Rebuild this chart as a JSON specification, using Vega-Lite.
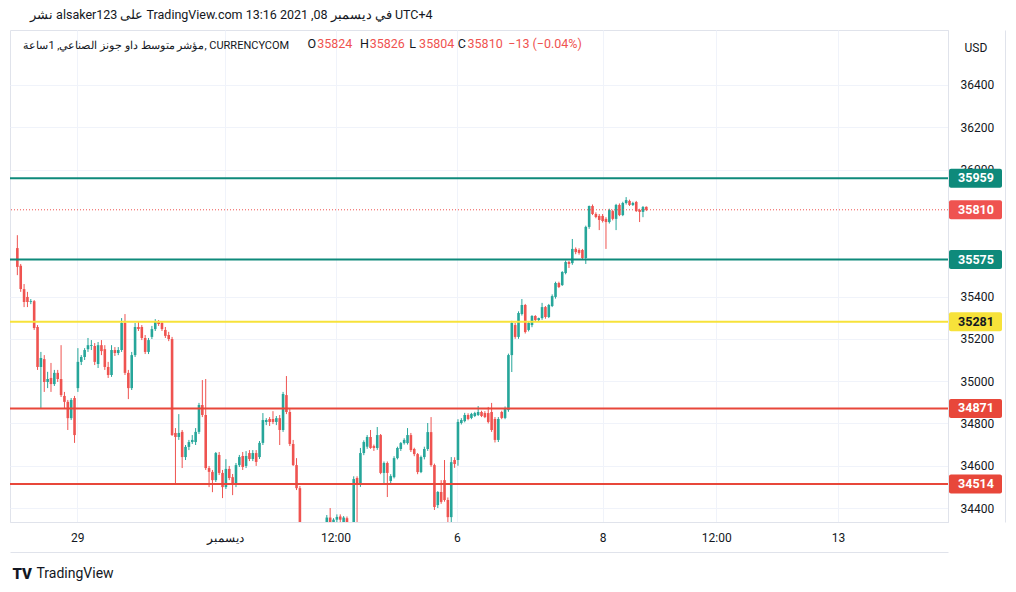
{
"$schema": "https://vega.github.io/schema/vega-lite/v6.json",
"width": 938, "height": 492,
"autosize": {"type": "none"},
"padding": {"left": 10, "top": 30, "right": 68, "bottom": 70},
"background": "#ffffff",
"config": {"view": {"stroke": "#e0e3eb"}, "font": "Roboto"},
"title": {"text": "نشر alsaker123 على TradingView.com 13:16 2021 ,08 في ديسمبر UTC+4", "anchor": "start", "frame": "group", "dx": 20, "offset": 9, "fontSize": 12.5, "fontWeight": "normal", "color": "#131722"},
"datasets": {
"candles": [
{"i":0,"o":35629,"h":35690,"l":35501,"c":35540},
{"i":1,"o":35545,"h":35554,"l":35422,"c":35435},
{"i":2,"o":35435,"h":35459,"l":35350,"c":35374},
{"i":3,"o":35398,"h":35422,"l":35350,"c":35374},
{"i":4,"o":35374,"h":35388,"l":35364,"c":35378},
{"i":5,"o":35378,"h":35383,"l":35242,"c":35251},
{"i":6,"o":35256,"h":35265,"l":35053,"c":35067},
{"i":7,"o":35067,"h":35138,"l":34873,"c":35109},
{"i":8,"o":35104,"h":35123,"l":34949,"c":34996},
{"i":9,"o":34996,"h":35044,"l":34967,"c":35010},
{"i":10,"o":35015,"h":35086,"l":34949,"c":34986},
{"i":11,"o":34986,"h":35053,"l":34977,"c":35039},
{"i":12,"o":35039,"h":35053,"l":34996,"c":35010},
{"i":13,"o":35010,"h":35170,"l":34925,"c":34934},
{"i":14,"o":34930,"h":34949,"l":34873,"c":34902},
{"i":15,"o":34902,"h":34911,"l":34769,"c":34825},
{"i":16,"o":34825,"h":34920,"l":34816,"c":34911},
{"i":17,"o":34920,"h":34930,"l":34708,"c":34745},
{"i":18,"o":34967,"h":35156,"l":34949,"c":35091},
{"i":19,"o":35091,"h":35123,"l":35076,"c":35114},
{"i":20,"o":35114,"h":35156,"l":35100,"c":35147},
{"i":21,"o":35151,"h":35204,"l":35138,"c":35170},
{"i":22,"o":35166,"h":35194,"l":35147,"c":35170},
{"i":23,"o":35166,"h":35180,"l":35076,"c":35091},
{"i":24,"o":35081,"h":35185,"l":35062,"c":35170},
{"i":25,"o":35170,"h":35194,"l":35123,"c":35142},
{"i":26,"o":35151,"h":35170,"l":35053,"c":35067},
{"i":27,"o":35067,"h":35091,"l":35015,"c":35029},
{"i":28,"o":35029,"h":35170,"l":35020,"c":35147},
{"i":29,"o":35147,"h":35161,"l":35119,"c":35133},
{"i":30,"o":35133,"h":35161,"l":35123,"c":35147},
{"i":31,"o":35147,"h":35298,"l":35138,"c":35275},
{"i":32,"o":35275,"h":35317,"l":35029,"c":35039},
{"i":33,"o":35039,"h":35053,"l":34915,"c":34967},
{"i":34,"o":34967,"h":35138,"l":34958,"c":35123},
{"i":35,"o":35123,"h":35275,"l":35114,"c":35256},
{"i":36,"o":35256,"h":35280,"l":35237,"c":35246},
{"i":37,"o":35256,"h":35265,"l":35194,"c":35204},
{"i":38,"o":35204,"h":35218,"l":35128,"c":35138},
{"i":39,"o":35138,"h":35204,"l":35128,"c":35194},
{"i":40,"o":35209,"h":35261,"l":35199,"c":35246},
{"i":41,"o":35246,"h":35293,"l":35237,"c":35280},
{"i":42,"o":35280,"h":35289,"l":35261,"c":35270},
{"i":43,"o":35275,"h":35284,"l":35237,"c":35246},
{"i":44,"o":35242,"h":35256,"l":35204,"c":35214},
{"i":45,"o":35218,"h":35233,"l":35189,"c":35199},
{"i":46,"o":35199,"h":35209,"l":34741,"c":34745},
{"i":47,"o":34755,"h":34778,"l":34513,"c":34736},
{"i":48,"o":34736,"h":34844,"l":34722,"c":34755},
{"i":49,"o":34760,"h":34769,"l":34589,"c":34641},
{"i":50,"o":34641,"h":34698,"l":34627,"c":34689},
{"i":51,"o":34689,"h":34722,"l":34674,"c":34712},
{"i":52,"o":34712,"h":34745,"l":34703,"c":34722},
{"i":53,"o":34712,"h":34778,"l":34698,"c":34760},
{"i":54,"o":34760,"h":34897,"l":34750,"c":34887},
{"i":55,"o":34887,"h":35005,"l":34830,"c":34840},
{"i":56,"o":34840,"h":35010,"l":34580,"c":34589},
{"i":57,"o":34589,"h":34599,"l":34499,"c":34571},
{"i":58,"o":34571,"h":34580,"l":34475,"c":34532},
{"i":59,"o":34532,"h":34665,"l":34523,"c":34660},
{"i":60,"o":34651,"h":34665,"l":34556,"c":34566},
{"i":61,"o":34566,"h":34580,"l":34447,"c":34499},
{"i":62,"o":34499,"h":34631,"l":34490,"c":34585},
{"i":63,"o":34585,"h":34599,"l":34532,"c":34542},
{"i":64,"o":34546,"h":34561,"l":34461,"c":34509},
{"i":65,"o":34509,"h":34613,"l":34499,"c":34603},
{"i":66,"o":34603,"h":34651,"l":34594,"c":34641},
{"i":67,"o":34646,"h":34665,"l":34580,"c":34594},
{"i":68,"o":34599,"h":34669,"l":34589,"c":34646},
{"i":69,"o":34660,"h":34674,"l":34622,"c":34632},
{"i":70,"o":34632,"h":34674,"l":34622,"c":34660},
{"i":71,"o":34660,"h":34674,"l":34599,"c":34618},
{"i":72,"o":34641,"h":34717,"l":34632,"c":34708},
{"i":73,"o":34708,"h":34849,"l":34698,"c":34816},
{"i":74,"o":34807,"h":34825,"l":34792,"c":34816},
{"i":75,"o":34821,"h":34830,"l":34788,"c":34807},
{"i":76,"o":34821,"h":34858,"l":34797,"c":34807},
{"i":77,"o":34807,"h":34835,"l":34792,"c":34825},
{"i":78,"o":34825,"h":34840,"l":34698,"c":34769},
{"i":79,"o":34769,"h":34949,"l":34760,"c":34939},
{"i":80,"o":34934,"h":35024,"l":34844,"c":34854},
{"i":81,"o":34854,"h":34868,"l":34693,"c":34703},
{"i":82,"o":34703,"h":34722,"l":34599,"c":34603},
{"i":83,"o":34603,"h":34636,"l":34485,"c":34494},
{"i":84,"o":34494,"h":34504,"l":34250,"c":34290},
{"i":85,"o":34290,"h":34315,"l":34180,"c":34210},
{"i":86,"o":34210,"h":34260,"l":34150,"c":34240},
{"i":87,"o":34240,"h":34290,"l":34200,"c":34220},
{"i":88,"o":34220,"h":34300,"l":34190,"c":34280},
{"i":89,"o":34280,"h":34310,"l":34220,"c":34250},
{"i":90,"o":34250,"h":34320,"l":34230,"c":34300},
{"i":91,"o":34300,"h":34325,"l":34260,"c":34280},
{"i":92,"o":34280,"h":34367,"l":34270,"c":34355},
{"i":93,"o":34355,"h":34400,"l":34290,"c":34300},
{"i":94,"o":34300,"h":34352,"l":34285,"c":34345},
{"i":95,"o":34345,"h":34370,"l":34320,"c":34358},
{"i":96,"o":34360,"h":34370,"l":34300,"c":34345},
{"i":97,"o":34330,"h":34362,"l":34300,"c":34355},
{"i":98,"o":34352,"h":34360,"l":34280,"c":34300},
{"i":99,"o":34300,"h":34320,"l":34250,"c":34280},
{"i":100,"o":34280,"h":34550,"l":34270,"c":34537},
{"i":101,"o":34542,"h":34550,"l":34330,"c":34518},
{"i":102,"o":34518,"h":34684,"l":34500,"c":34660},
{"i":103,"o":34660,"h":34720,"l":34650,"c":34712},
{"i":104,"o":34690,"h":34745,"l":34680,"c":34736},
{"i":105,"o":34736,"h":34769,"l":34680,"c":34684},
{"i":106,"o":34693,"h":34700,"l":34670,"c":34684},
{"i":107,"o":34684,"h":34783,"l":34675,"c":34745},
{"i":108,"o":34745,"h":34750,"l":34560,"c":34566},
{"i":109,"o":34566,"h":34620,"l":34518,"c":34613},
{"i":110,"o":34613,"h":34620,"l":34452,"c":34566},
{"i":111,"o":34528,"h":34560,"l":34515,"c":34551},
{"i":112,"o":34546,"h":34645,"l":34540,"c":34636},
{"i":113,"o":34636,"h":34690,"l":34630,"c":34684},
{"i":114,"o":34679,"h":34712,"l":34670,"c":34707},
{"i":115,"o":34707,"h":34730,"l":34700,"c":34722},
{"i":116,"o":34707,"h":34778,"l":34700,"c":34745},
{"i":117,"o":34745,"h":34755,"l":34665,"c":34674},
{"i":118,"o":34679,"h":34685,"l":34645,"c":34655},
{"i":119,"o":34655,"h":34660,"l":34560,"c":34570},
{"i":120,"o":34570,"h":34648,"l":34565,"c":34641},
{"i":121,"o":34641,"h":34690,"l":34630,"c":34679},
{"i":122,"o":34679,"h":34802,"l":34670,"c":34759},
{"i":123,"o":34759,"h":34830,"l":34595,"c":34603},
{"i":124,"o":34603,"h":34610,"l":34391,"c":34405},
{"i":125,"o":34414,"h":34480,"l":34400,"c":34476},
{"i":126,"o":34476,"h":34532,"l":34420,"c":34429},
{"i":127,"o":34532,"h":34627,"l":34430,"c":34438},
{"i":128,"o":34438,"h":34450,"l":34334,"c":34357},
{"i":129,"o":34357,"h":34641,"l":34334,"c":34617},
{"i":130,"o":34627,"h":34640,"l":34590,"c":34608},
{"i":131,"o":34627,"h":34820,"l":34600,"c":34807},
{"i":132,"o":34802,"h":34825,"l":34795,"c":34816},
{"i":133,"o":34811,"h":34850,"l":34805,"c":34840},
{"i":134,"o":34840,"h":34848,"l":34815,"c":34821},
{"i":135,"o":34826,"h":34850,"l":34820,"c":34845},
{"i":136,"o":34835,"h":34855,"l":34830,"c":34849},
{"i":137,"o":34840,"h":34882,"l":34835,"c":34854},
{"i":138,"o":34854,"h":34860,"l":34830,"c":34835},
{"i":139,"o":34849,"h":34858,"l":34825,"c":34830},
{"i":140,"o":34849,"h":34878,"l":34800,"c":34807},
{"i":141,"o":34854,"h":34897,"l":34760,"c":34769},
{"i":142,"o":34821,"h":34830,"l":34710,"c":34722},
{"i":143,"o":34722,"h":34830,"l":34712,"c":34821},
{"i":144,"o":34854,"h":34860,"l":34820,"c":34826},
{"i":145,"o":34826,"h":34880,"l":34820,"c":34873},
{"i":146,"o":34863,"h":35130,"l":34855,"c":35123},
{"i":147,"o":35123,"h":35285,"l":35043,"c":35275},
{"i":148,"o":35265,"h":35275,"l":35200,"c":35209},
{"i":149,"o":35209,"h":35330,"l":35200,"c":35322},
{"i":150,"o":35317,"h":35388,"l":35310,"c":35360},
{"i":151,"o":35360,"h":35365,"l":35225,"c":35232},
{"i":152,"o":35242,"h":35280,"l":35235,"c":35275},
{"i":153,"o":35265,"h":35312,"l":35255,"c":35308},
{"i":154,"o":35308,"h":35312,"l":35280,"c":35289},
{"i":155,"o":35289,"h":35300,"l":35280,"c":35298},
{"i":156,"o":35298,"h":35370,"l":35290,"c":35350},
{"i":157,"o":35350,"h":35355,"l":35295,"c":35303},
{"i":158,"o":35303,"h":35365,"l":35298,"c":35360},
{"i":159,"o":35355,"h":35410,"l":35350,"c":35402},
{"i":160,"o":35398,"h":35470,"l":35390,"c":35464},
{"i":161,"o":35464,"h":35470,"l":35440,"c":35445},
{"i":162,"o":35454,"h":35520,"l":35450,"c":35516},
{"i":163,"o":35511,"h":35570,"l":35505,"c":35563},
{"i":164,"o":35563,"h":35568,"l":35535,"c":35554},
{"i":165,"o":35558,"h":35672,"l":35550,"c":35625},
{"i":166,"o":35625,"h":35632,"l":35600,"c":35610},
{"i":167,"o":35620,"h":35628,"l":35598,"c":35606},
{"i":168,"o":35620,"h":35625,"l":35575,"c":35582},
{"i":169,"o":35582,"h":35735,"l":35554,"c":35729},
{"i":170,"o":35729,"h":35830,"l":35720,"c":35828},
{"i":171,"o":35828,"h":35835,"l":35785,"c":35790},
{"i":172,"o":35790,"h":35798,"l":35770,"c":35776},
{"i":173,"o":35781,"h":35790,"l":35714,"c":35762},
{"i":174,"o":35781,"h":35790,"l":35750,"c":35757},
{"i":175,"o":35767,"h":35775,"l":35625,"c":35752},
{"i":176,"o":35752,"h":35815,"l":35745,"c":35809},
{"i":177,"o":35804,"h":35810,"l":35760,"c":35767},
{"i":178,"o":35767,"h":35838,"l":35714,"c":35833},
{"i":179,"o":35833,"h":35840,"l":35780,"c":35785},
{"i":180,"o":35785,"h":35848,"l":35780,"c":35842},
{"i":181,"o":35842,"h":35870,"l":35835,"c":35856},
{"i":182,"o":35852,"h":35858,"l":35828,"c":35833},
{"i":183,"o":35833,"h":35848,"l":35828,"c":35842},
{"i":184,"o":35847,"h":35852,"l":35800,"c":35804},
{"i":185,"o":35809,"h":35815,"l":35752,"c":35800},
{"i":186,"o":35800,"h":35828,"l":35775,"c":35823},
{"i":187,"o":35824,"h":35826,"l":35804,"c":35810}
],
"levels": [
{"name":"R2","price":35959},
{"name":"R1","price":35575},
{"name":"P","price":35281},
{"name":"S1","price":34871},
{"name":"S2","price":34514},
{"name":"Last","price":35810}
]
},
"resolve": {"axis": {"x": "independent", "y": "independent"}},
"layer": [
{
"data": {"name": "candles"},
"mark": {"type": "rule", "strokeWidth": 1, "clip": true},
"encoding": {
"x": {"field": "i", "type": "quantitative", "scale": {"domain": [-0.7, 275.2], "nice": false, "zero": false},
 "axis": {"orient": "bottom", "values": [17.8, 61.6, 94.6, 130.7, 174, 207.8, 244],
  "labelExpr": "datum.value < 30 ? '29' : datum.value < 70 ? 'ديسمبر' : datum.value < 110 ? '12:00' : datum.value < 150 ? '6' : datum.value < 190 ? '8' : datum.value < 225 ? '12:00' : '13'",
  "grid": true, "gridColor": "#f0f3fa", "ticks": false, "domain": true, "domainColor": "#e0e3eb",
  "labelColor": "#131722", "labelFontSize": 12, "labelPadding": 10, "labelFlush": false, "labelOverlap": false,
  "title": "TV", "titleX": 2, "titleY": 51, "titleAlign": "left", "titleBaseline": "middle", "titleFontSize": 15, "titleFontWeight": 900, "titleColor": "#131722"}},
"y": {"field": "l", "type": "quantitative", "scale": {"domain": [34334, 36660], "nice": false, "zero": false},
 "axis": {"orient": "right", "values": [34400, 34600, 34800, 35000, 35200, 35400, 36000, 36200, 36400], "format": "d",
  "grid": true, "gridColor": "#f0f3fa", "ticks": false, "domain": true, "domainColor": "#e0e3eb",
  "labelColor": "#131722", "labelFontSize": 12, "labelPadding": 12, "labelAlign": "left", "labelFlush": false, "labelOverlap": false,
  "title": "USD", "titleAngle": 0, "titleX": 16, "titleY": 17, "titleAlign": "left", "titleBaseline": "middle", "titleFontSize": 12, "titleFontWeight": "normal", "titleColor": "#131722"}},
"y2": {"field": "h"},
"color": {"condition": {"test": "datum.c >= datum.o", "value": "#26a69a"}, "value": "#ef5350"}
}
},
{
"data": {"name": "candles"},
"mark": {"type": "bar", "width": 2.6, "clip": true},
"encoding": {
"x": {"field": "i", "type": "quantitative", "scale": {"domain": [-0.7, 275.2], "nice": false, "zero": false},
 "axis": {"orient": "top", "offset": -22, "values": [1.65, 86.1, 89.0, 101.7, 104.6, 116.4, 119.3, 130.8, 133.7, 145.8],
  "labelExpr": "datum.value < 10 ? 'مؤشر متوسط داو جونز الصناعي, 1ساعة, CURRENCYCOM' : datum.value < 87 ? 'O' : datum.value < 90 ? '35824' : datum.value < 102 ? 'H' : datum.value < 105 ? '35826' : datum.value < 117 ? 'L' : datum.value < 120 ? '35804' : datum.value < 131 ? 'C' : datum.value < 134 ? '35810' : '−13 (−0.04%)'",
  "labelAlign": "left", "labelPadding": 2, "labelFlush": false, "labelOverlap": false, "labelLimit": 600,
  "labelFontSize": {"condition": {"test": "datum.value < 10", "value": 11}, "value": 12.5},
  "labelColor": {"condition": {"test": "datum.value < 10 || abs(datum.value - 86.1) < 0.5 || abs(datum.value - 101.7) < 0.5 || abs(datum.value - 116.4) < 0.5 || abs(datum.value - 130.8) < 0.5", "value": "#131722"}, "value": "#ef5350"},
  "domain": false, "ticks": false, "grid": false, "title": null}},
"y": {"field": "o", "type": "quantitative", "scale": {"domain": [34334, 36660], "nice": false, "zero": false}, "axis": null},
"y2": {"field": "c"},
"color": {"condition": {"test": "datum.c >= datum.o", "value": "#26a69a"}, "value": "#ef5350"}
}
},
{
"data": {"name": "levels"},
"transform": [{"filter": "datum.name != 'Last'"}],
"mark": {"type": "rule", "strokeWidth": 2},
"encoding": {
"y": {"field": "price", "type": "quantitative", "scale": {"domain": [34334, 36660], "nice": false, "zero": false}, "axis": null},
"color": {"field": "name", "type": "nominal", "scale": {"domain": ["R2", "R1", "P", "S1", "S2", "Last"], "range": ["#0e8a7b", "#0e8a7b", "#f7e23a", "#e8473a", "#e8473a", "#ef5350"]}, "legend": null}
}
},
{
"data": {"name": "levels"},
"transform": [{"filter": "datum.name == 'Last'"}],
"mark": {"type": "rule", "strokeWidth": 1, "strokeDash": [1, 2], "color": "#ef5350"},
"encoding": {
"y": {"field": "price", "type": "quantitative", "scale": {"domain": [34334, 36660], "nice": false, "zero": false}, "axis": null}
}
},
{
"data": {"name": "levels"},
"mark": {"type": "rect", "xOffset": 1, "x2Offset": 54, "yOffset": -9.5, "y2Offset": 9.5, "cornerRadius": 2},
"encoding": {
"x": {"value": "width"},
"x2": {"value": "width"},
"y": {"field": "price", "type": "quantitative", "scale": {"domain": [34334, 36660], "nice": false, "zero": false}, "axis": null},
"y2": {"field": "price"},
"color": {"field": "name", "type": "nominal", "scale": {"domain": ["R2", "R1", "P", "S1", "S2", "Last"], "range": ["#0e8a7b", "#0e8a7b", "#f7e23a", "#e8473a", "#e8473a", "#ef5350"]}, "legend": null}
}
},
{
"data": {"name": "levels"},
"mark": {"type": "text", "dx": 28, "fontWeight": "bold", "fontSize": 12.5, "align": "center", "baseline": "middle"},
"encoding": {
"x": {"value": "width"},
"y": {"field": "price", "type": "quantitative", "scale": {"domain": [34334, 36660], "nice": false, "zero": false}, "axis": null},
"text": {"field": "price", "type": "quantitative", "format": "d"},
"color": {"condition": {"test": "datum.name == 'P'", "value": "#131722"}, "value": "#ffffff"}
}
},
{
"data": {"name": "candles"},
"mark": {"type": "point", "opacity": 0},
"encoding": {
"x": {"field": "i", "type": "quantitative", "scale": {"domain": [-0.7, 275.2], "nice": false, "zero": false},
 "axis": {"orient": "bottom", "offset": 30, "labels": false, "ticks": false, "grid": false, "domain": true, "domainColor": "#e0e3eb",
  "title": "TradingView", "titleX": 26, "titleY": 21, "titleAlign": "left", "titleBaseline": "middle", "titleFontSize": 14, "titleFontWeight": "normal", "titleColor": "#131722"}},
"y": {"field": "c", "type": "quantitative", "scale": {"domain": [34334, 36660], "nice": false, "zero": false},
 "axis": {"orient": "right", "offset": 57, "labels": false, "ticks": false, "grid": false, "domain": true, "domainColor": "#e0e3eb", "title": null}}
}
}
]
}
